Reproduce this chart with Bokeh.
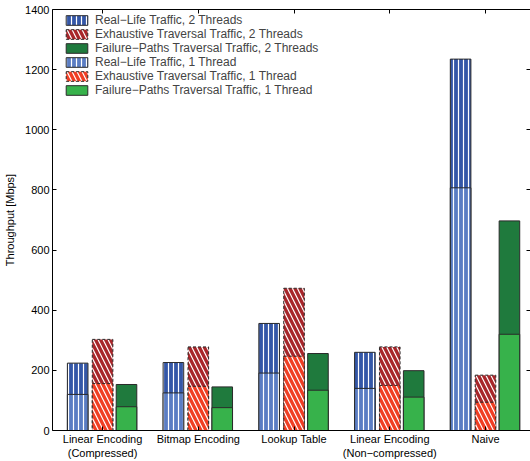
import numpy as np
from bokeh.plotting import figure
from bokeh.models import LinearAxis, FixedTicker, Range1d
from bokeh.embed import file_html
from bokeh.resources import INLINE

groups = ["Linear Encoding\n(Compressed)", "Bitmap Encoding", "Lookup Table",
          "Linear Encoding\n(Non\u2212compressed)", "Naive"]
real_2t = [224, 226, 356, 260, 1235]
real_1t = [120, 125, 191, 140, 807]
exh_2t = [303, 278, 473, 278, 184]
exh_1t = [156, 147, 247, 150, 94]
fail_2t = [153, 145, 256, 199, 697]
fail_1t = [79, 76, 134, 111, 320]
y_ticks = [0, 200, 400, 600, 800, 1000, 1200, 1400]

FONT = "Liberation Sans"
FS = "11px"
LFS = "12px"
centers = np.arange(1, len(groups) + 1)
W = 0.215

p = figure(width=530, height=461, output_backend="svg", toolbar_location=None,
           x_range=Range1d(0.477, 5.47), y_range=Range1d(0, 1400),
           min_border_left=52, min_border_right=0, min_border_top=9, min_border_bottom=0)
p.grid.visible = False
p.outline_line_color = None
p.background_fill_color = "white"

edge = "#2a2a2a"
specs = [
    (real_2t, -0.26, "#3457A7", "|", 5, None, "Real\u2212Life Traffic, 2 Threads"),
    (exh_2t, 0.0, "#A8262A", "\\", 10, "3 2", "Exhaustive Traversal Traffic, 2 Threads"),
    (fail_2t, 0.25, "#1F7A3D", None, 5, None, "Failure\u2212Paths Traversal Traffic, 2 Threads"),
    (real_1t, -0.26, "#5B7DC3", "|", 5, None, "Real\u2212Life Traffic, 1 Thread"),
    (exh_1t, 0.0, "#F03E24", "\\", 10, "3 2", "Exhaustive Traversal Traffic, 1 Thread"),
    (fail_1t, 0.25, "#37B24B", None, 5, None, "Failure\u2212Paths Traversal Traffic, 1 Thread"),
]
for vals, off, col, hatch, hs, dash, lab in specs:
    kw = dict(x=centers + off, top=vals, bottom=0, width=W, fill_color=col,
              line_color=edge, line_width=1, legend_label=lab)
    if hatch:
        kw.update(hatch_pattern=hatch, hatch_color="white", hatch_scale=hs, hatch_weight=1.2)
    if dash:
        kw.update(line_dash=dash)
    p.vbar(**kw)

# axes
xa = p.xaxis[0]
xa.ticker = FixedTicker(ticks=list(centers))
xa.major_label_overrides = {int(c): g for c, g in zip(centers, groups)}
xa.major_tick_in = 4
xa.major_tick_out = 0
xa.minor_tick_line_color = None
xa.major_label_standoff = 2
xa.major_label_text_font = FONT
xa.major_label_text_font_size = FS
xa.major_label_text_color = "black"
xa.axis_line_color = "black"

ya = p.yaxis[0]
ya.ticker = FixedTicker(ticks=y_ticks)
ya.major_tick_in = 4
ya.major_tick_out = 0
ya.minor_tick_line_color = None
ya.major_label_standoff = 3
ya.major_label_text_font = FONT
ya.major_label_text_font_size = FS
ya.major_label_text_color = "black"
ya.axis_label = "Throughput [Mbps]"
ya.axis_label_text_font = FONT
ya.axis_label_text_font_size = FS
ya.axis_label_text_font_style = "normal"
ya.axis_label_text_color = "black"
ya.axis_label_standoff = 6

top = LinearAxis(ticker=FixedTicker(ticks=list(centers)), major_tick_in=4, major_tick_out=0,
                 minor_tick_line_color=None,
                 major_label_overrides={int(c): "" for c in centers},
                 major_label_standoff=0)
p.add_layout(top, "above")
right = LinearAxis(ticker=FixedTicker(ticks=y_ticks), major_tick_in=4, major_tick_out=0,
                   minor_tick_line_color=None, axis_line_color=None,
                   major_label_overrides={t: "" for t in y_ticks},
                   major_label_standoff=0)
p.add_layout(right, "right")

lg = p.legend[0]
lg.location = (9, 331)
lg.margin = 0
lg.padding = 2
lg.spacing = 0
lg.glyph_width = 27
lg.glyph_height = 12
lg.label_height = 13
lg.label_standoff = 5
lg.label_text_font = FONT
lg.label_text_font_size = LFS
lg.border_line_alpha = 0
lg.background_fill_alpha = 0

open("out.html", "w").write(file_html(p, INLINE))
